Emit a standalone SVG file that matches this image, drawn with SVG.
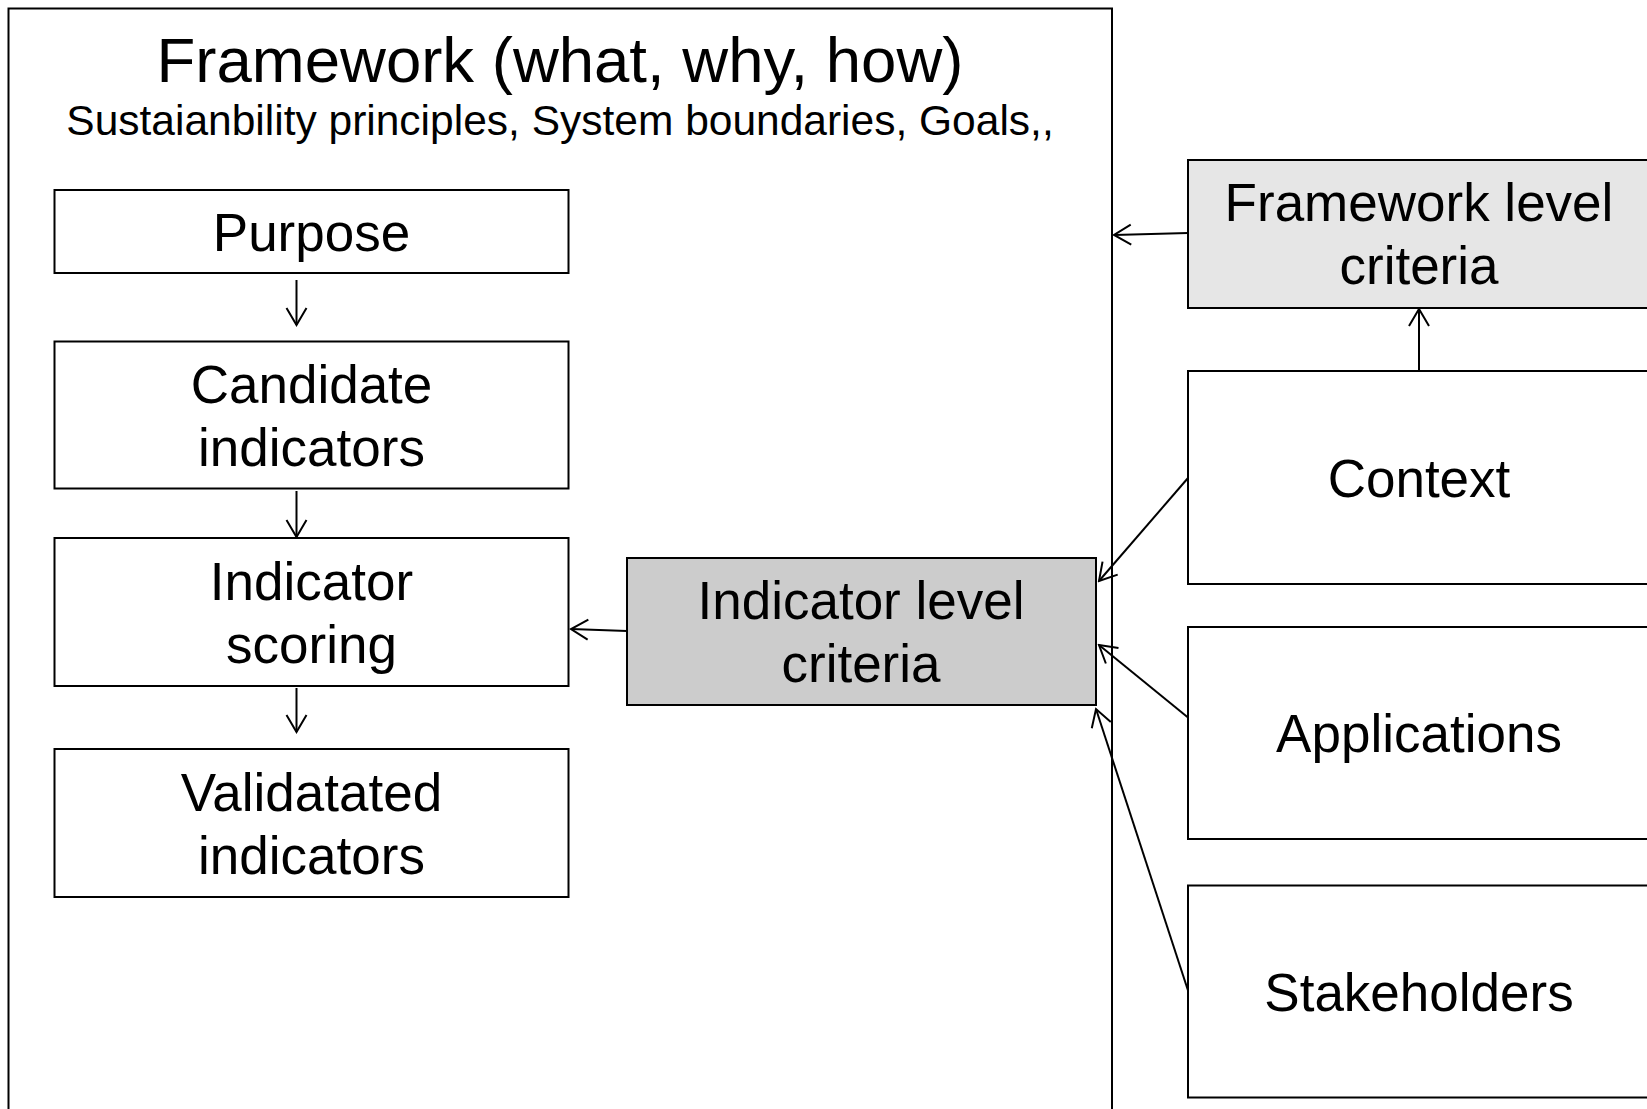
<svg xmlns="http://www.w3.org/2000/svg" width="1647" height="1109" viewBox="0 0 1647 1109">
<style>
  .box{fill:#ffffff;stroke:#000000;stroke-width:2}
  .grey{fill:#cccccc;stroke:#000000;stroke-width:2}
  .light{fill:#e6e6e6;stroke:#000000;stroke-width:2}
  .frame{fill:none;stroke:#000000;stroke-width:2}
  .lbl{font-family:"Liberation Sans",Arial,sans-serif;font-size:53px;fill:#000000;text-anchor:middle}
  .title{font-family:"Liberation Sans",Arial,sans-serif;font-size:63.5px;fill:#000000;text-anchor:middle}
  .sub{font-family:"Liberation Sans",Arial,sans-serif;font-size:42.5px;fill:#000000;text-anchor:middle}
  .conn line{stroke:#000000;stroke-width:2;marker-end:url(#arr)}
</style>
<defs>
  <marker id="arr" markerUnits="userSpaceOnUse" viewBox="-20 -12 22 24" markerWidth="22" markerHeight="24" refX="0" refY="0" orient="auto">
    <path d="M -17 -10 L 0 0 L -17 10" fill="none" stroke="#000000" stroke-width="2"/>
  </marker>
</defs>
<rect width="1647" height="1109" fill="#ffffff"/>

<g id="framework">
  <rect class="frame" x="8.5" y="8.5" width="1103.5" height="1120"/>
  <text class="title" x="560" y="82">Framework (what, why, how)</text>
  <text class="sub" x="560" y="135">Sustaianbility principles, System boundaries, Goals,,</text>
</g>

<g id="purpose">
  <rect class="box" x="54.5" y="190" width="514" height="83"/>
  <text class="lbl" x="311.5" y="251">Purpose</text>
</g>
<g id="candidate">
  <rect class="box" x="54.5" y="341.5" width="514" height="147"/>
  <text class="lbl" x="311.5" y="402.5">Candidate</text>
  <text class="lbl" x="311.5" y="465.5">indicators</text>
</g>
<g id="scoring">
  <rect class="box" x="54.5" y="538" width="514" height="148"/>
  <text class="lbl" x="311.5" y="599.5">Indicator</text>
  <text class="lbl" x="311.5" y="662.5">scoring</text>
</g>
<g id="validated">
  <rect class="box" x="54.5" y="749" width="514" height="148"/>
  <text class="lbl" x="311.5" y="810.5">Validatated</text>
  <text class="lbl" x="311.5" y="873.5">indicators</text>
</g>
<g id="indicator-criteria">
  <rect class="grey" x="627" y="558" width="469" height="147"/>
  <text class="lbl" x="861" y="619">Indicator level</text>
  <text class="lbl" x="861" y="682">criteria</text>
</g>
<g id="framework-criteria">
  <rect class="light" x="1188" y="160" width="470" height="148"/>
  <text class="lbl" x="1419" y="221">Framework level</text>
  <text class="lbl" x="1419" y="284">criteria</text>
</g>
<g id="context">
  <rect class="box" x="1188" y="371" width="470" height="213"/>
  <text class="lbl" x="1419" y="496.5">Context</text>
</g>
<g id="applications">
  <rect class="box" x="1188" y="627" width="470" height="212"/>
  <text class="lbl" x="1419" y="752">Applications</text>
</g>
<g id="stakeholders">
  <rect class="box" x="1188" y="885.5" width="470" height="212"/>
  <text class="lbl" x="1419" y="1010.5">Stakeholders</text>
</g>

<g id="connectors" class="conn">
  <line x1="296.5" y1="280" x2="296.5" y2="325"/>
  <line x1="296.5" y1="491" x2="296.5" y2="537"/>
  <line x1="296.5" y1="688" x2="296.5" y2="732"/>
  <line x1="627" y1="631" x2="571" y2="629"/>
  <line x1="1188" y1="233" x2="1114" y2="235"/>
  <line x1="1419" y1="371" x2="1419" y2="309"/>
  <line x1="1188" y1="478" x2="1099" y2="581"/>
  <line x1="1188" y1="717.5" x2="1099" y2="645"/>
  <line x1="1188" y1="990.5" x2="1096" y2="709"/>
</g>
</svg>
